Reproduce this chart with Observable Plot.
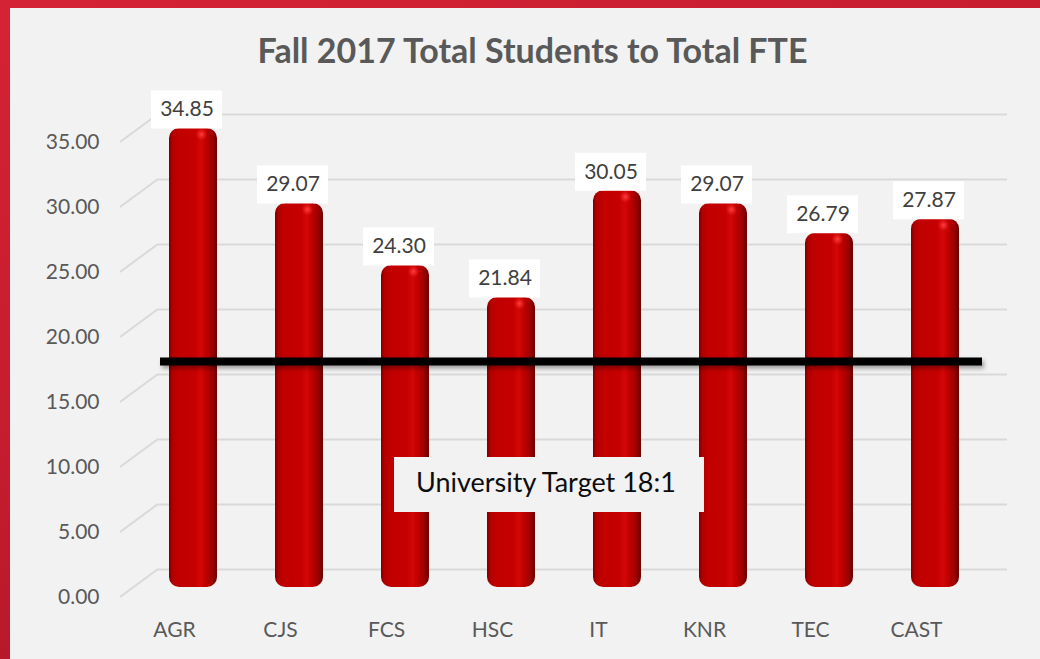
<!DOCTYPE html>
<html>
<head>
<meta charset="utf-8">
<script src="https://cdn.jsdelivr.net/npm/d3@7"></script>
<script src="https://cdn.jsdelivr.net/npm/@observablehq/plot@0.6"></script>
<style>
  html, body { margin: 0; padding: 0; }
  #frame { position: relative; width: 1040px; height: 659px; overflow: hidden;
           background: linear-gradient(160deg, #d42334 0%, #c41c2e 45%, #a01423 100%); }
  #panel { position: absolute; left: 10px; top: 8px; width: 1030px; height: 651px; background: #f2f2f2; }
  #title { position: absolute; left: 0; top: 22px; width: 1045px; text-align: center;
           font: bold 34px Lato, "Open Sans", sans-serif; line-height: 40px; color: #595959; }
  #chart { position: absolute; left: 0; top: 72px; }
</style>
</head>
<body>
<div id="frame">
  <div id="panel">
    <div id="title">Fall 2017 Total Students to Total FTE</div>
    <div id="chart"></div>
  </div>
</div>
<script>
const categories = ["AGR", "CJS", "FCS", "HSC", "IT", "KNR", "TEC", "CAST"];
const values = [34.85, 29.07, 24.30, 21.84, 30.05, 29.07, 26.79, 27.87];
const yTicks = [0, 5, 10, 15, 20, 25, 30, 35];
const target = 18;
const noteText = "University Target 18:1";
const noteCategory = "HSC";
const noteValue = 8.7;

const data = categories.map((c, i) => ({cat: c, value: values[i]}));

const W = 1030, H = 579;
const plot = Plot.plot({
  width: W,
  height: H,
  marginLeft: 110,
  marginRight: 71,
  marginTop: 62,
  marginBottom: 62,
  style: {background: "transparent", overflow: "visible", font: "21px Lato, 'Open Sans', sans-serif", color: "#595959"},
  x: {domain: categories, paddingInner: 0.548, paddingOuter: 0.274, tickSize: 0, tickPadding: 25, label: null},
  y: {domain: [0, 35], ticks: yTicks, tickSize: 0, tickPadding: 21, tickFormat: d => d.toFixed(2), label: null},
  marks: [
    Plot.ruleY(yTicks, {stroke: "#d9d9d9", strokeWidth: 2, dx: 38, dy: -28}),
    Plot.barY(data, {x: "cat", y: "value", fill: "url(#barGrad)", dx: 19, dy: -13, insetTop: -3, insetBottom: -3, rx: 10}),
    Plot.dot(data, {x: "cat", y: "value", r: 6, fill: "url(#spec)", stroke: null, dx: 27, dy: -10}),
    Plot.ruleY([target], {stroke: "black", strokeWidth: 8, insetLeft: 40, insetRight: -13, dy: -2}),
    Plot.tickY(data, {x: "cat", y: "value", stroke: "white", strokeWidth: 38, dx: 12.5, dy: -35, insetLeft: -11.5, insetRight: -11.5}),
    Plot.text(data, {x: "cat", y: "value", text: d => d.value.toFixed(2), dx: 12.5, dy: -35, fontSize: 21, fill: "#404040"}),
    Plot.tickY([{cat: noteCategory, value: noteValue}], {x: "cat", y: "value", stroke: "#f2f2f2", strokeWidth: 55, dx: 57, insetLeft: -131, insetRight: -131}),
    Plot.text([{cat: noteCategory, value: noteValue, t: noteText}], {x: "cat", y: "value", text: "t", dx: 53.5, dy: -1, fontSize: 27, fill: "#0d0d0d"})
  ]
});

const svg = d3.select(plot);
const defs = svg.insert("defs", ":first-child");
const g = defs.append("linearGradient").attr("id", "barGrad").attr("x1", 0).attr("x2", 1).attr("y1", 0).attr("y2", 0);
[[0, "#7d0000"], [0.07, "#b00000"], [0.2, "#c10000"], [0.55, "#c60000"], [0.66, "#d30707"], [0.76, "#c20000"], [0.9, "#9c0000"], [1, "#6a0000"]]
  .forEach(([o, c]) => g.append("stop").attr("offset", o).attr("stop-color", c));
const s = defs.append("radialGradient").attr("id", "spec");
[[0, "rgba(255,70,70,0.9)"], [1, "rgba(255,40,40,0)"]]
  .forEach(([o, c]) => s.append("stop").attr("offset", o).attr("stop-color", c));

// perspective floor connectors from the front axis to the back wall
const y = plot.scale("y");
const gridGroup = svg.insert("g", "g[aria-label='bar']").attr("stroke", "#d9d9d9").attr("stroke-width", 2);
yTicks.forEach(v => {
  const yy = y.apply(v);
  gridGroup.append("line").attr("x1", 110).attr("x2", 148).attr("y1", yy).attr("y2", yy - 28);
});
// soft shadow on the target line
const rules = svg.selectAll("g[aria-label='rule']").nodes();
d3.select(rules[rules.length - 1]).style("filter", "drop-shadow(2px 3px 2px rgba(0,0,0,0.35))");
// note box matches the panel colour
const ticks = svg.selectAll("g[aria-label='tick']").nodes();
d3.select(ticks[ticks.length - 1]).attr("stroke", "#f2f2f2").selectAll("line").attr("stroke", "#f2f2f2");

document.getElementById("chart").appendChild(plot);
</script>
</body>
</html>
